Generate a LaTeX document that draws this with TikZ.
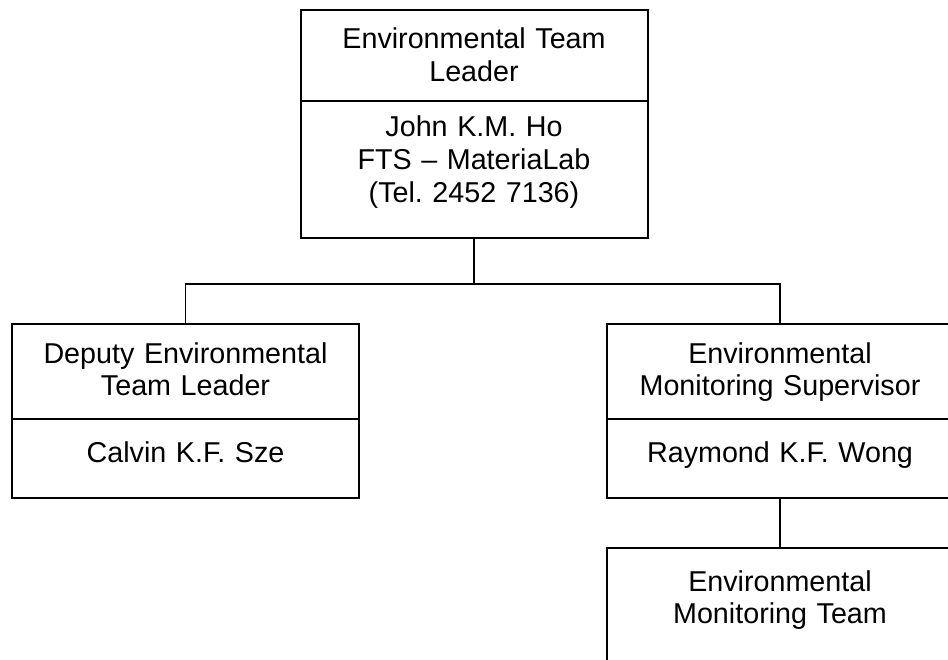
\documentclass[tikz,border=0pt]{standalone}
\usepackage{fontspec}
\setmainfont{Liberation Sans}
\frenchspacing
\begin{document}
\begin{tikzpicture}[x=1pt,y=-1pt,
  box/.style={draw,line width=2pt,minimum width=347pt,inner sep=0pt,anchor=north},
  lbl/.style={anchor=base,text width=340pt,align=center,inner sep=0pt,
    font=\fontsize{28.7pt}{32.7pt}\selectfont\frenchspacing},
  conn/.style={line width=1.6pt}]
\useasboundingbox (0,0) rectangle (948,660);
\clip (0,0) rectangle (948,660);
% top box
\node[box,minimum height=91pt] (th) at (474,9) {};
\node[box,minimum height=137pt] (tb) at (474,100) {};
\node[lbl] (tht) at (474,49) {Environmental Team\\Leader};
\node[lbl] (tbt) at (474,137) {John K.M. Ho\\FTS – MateriaLab\\(Tel. 2452 7136)};
% left box
\node[box,minimum height=95pt] (lh) at (185.5,323) {};
\node[box,minimum height=79pt] (lb) at (185.5,418) {};
\node[lbl] (lht) at (185.5,363) {Deputy Environmental\\Team Leader};
\node[lbl] (lbt) at (185.5,462) {Calvin K.F. Sze};
% right box
\node[box,minimum height=95pt] (rh) at (780,323) {};
\node[box,minimum height=79pt] (rb) at (780,418) {};
\node[lbl] (rht) at (780,363) {Environmental\\Monitoring Supervisor};
\node[lbl] (rbt) at (780,462) {Raymond K.F. Wong};
% bottom box
\node[box,minimum height=160pt] (mt) at (780,547) {};
\node[lbl] (mtt) at (780,591) {Environmental\\Monitoring Team};
% connectors
\coordinate (bar) at (474,284);
\draw[conn] (tb.south) -- (bar);
\draw[conn] (lh.north) |- (bar) -| (rh.north);
\draw[conn] (rb.south) -- (mt.north);
\end{tikzpicture}
\end{document}
